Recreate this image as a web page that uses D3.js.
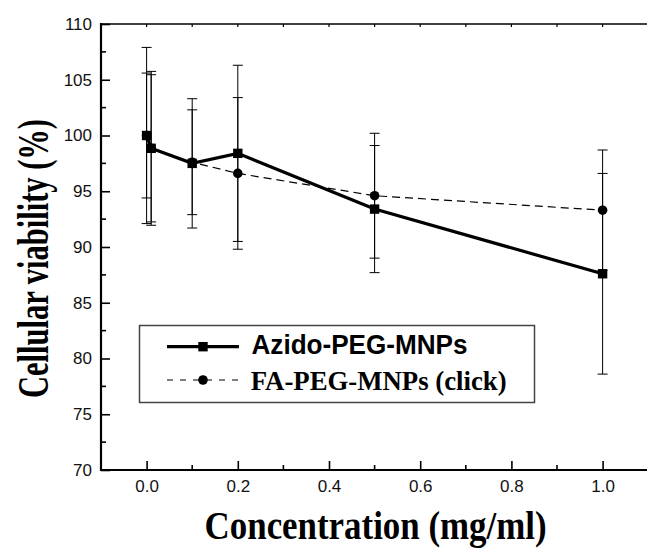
<!DOCTYPE html>
<html>
<head>
<meta charset="utf-8">
<script src="https://cdn.jsdelivr.net/npm/d3@7"></script>
<style>
  body { margin: 0; background: #fff; }
  svg { display: block; }
</style>
</head>
<body>
<div id="chart"></div>
<script>
// concentrations (mg/ml)
const concentrations = [0, 0.01, 0.1, 0.2, 0.5, 1.0]
// cellular viability (%) and error
const azidoValues = [100, 98.85, 97.5, 98.4, 93.4, 87.6]
const azidoErrors = [7.9, 6.9, 5.8, 7.9, 5.7, 9.0]
const faValues = [100, 98.85, 97.6, 96.6, 94.6, 93.3]
const faErrors = [5.6, 6.6, 4.7, 6.8, 5.6, 5.4]
const seriesNames = ['Azido-PEG-MNPs', 'FA-PEG-MNPs (click)']
const xTickValues = [0, 0.2, 0.4, 0.6, 0.8, 1.0]
const yTickValues = [70, 75, 80, 85, 90, 95, 100, 105, 110]

const width = 647, height = 548
const margin = {top: 24, left: 101, bottom: 78} // bottom measured from page foot

const svg = d3.select('#chart').append('svg')
    .attr('width', width)
    .attr('height', height)

// x goes past the right edge of the page, as in the picture
const x = d3.scaleLinear().domain([-0.1, 1.1]).range([margin.left, 648.2])
const y = d3.scaleLinear().domain([70, 110]).range([height - margin.bottom, margin.top])

const sansFont = '"Liberation Sans", Arial, sans-serif'
const serifFont = '"Liberation Serif", "Times New Roman", serif'

// ---- axes ----
const xMinor = d3.range(1, 11, 2).map(d => d / 10)
const yMinor = d3.range(72.5, 110, 5)

// bottom axis: major ticks inward (up)
const xAxis = svg.append('g').attr('transform', 'translate(0,' + y(70) + ')')
xAxis.call(d3.axisBottom(x).tickValues(xTickValues).tickSize(-9).tickFormat(d3.format('.1f')))
xAxis.selectAll('.tick text')
    .attr('y', 22)
    .attr('dy', 0)
    .attr('font-size', 17)
    .attr('font-family', sansFont)
    .attr('fill', '#111')
xAxis.select('.domain').remove()
xAxis.selectAll('.tick line').attr('stroke', '#000').attr('stroke-width', 1.6)
xAxis.selectAll('.minor').data(xMinor).enter().append('line')
    .attr('x1', d => x(d)).attr('x2', d => x(d))
    .attr('y1', 0).attr('y2', -5)
    .attr('stroke', '#000').attr('stroke-width', 1.6)
xAxis.append('line')
    .attr('x1', x(-0.1) - 1).attr('x2', width)
    .attr('stroke', '#000').attr('stroke-width', 2.2)

// left axis
const yAxis = svg.append('g').attr('transform', 'translate(' + x(-0.1) + ',0)')
yAxis.call(d3.axisLeft(y).tickValues(yTickValues).tickSize(-9).tickPadding(9))
yAxis.selectAll('.tick text')
    .attr('font-size', 17)
    .attr('font-family', sansFont)
    .attr('fill', '#111')
yAxis.select('.domain').remove()
yAxis.selectAll('.tick line').attr('stroke', '#000').attr('stroke-width', 1.6)
yAxis.selectAll('.minor').data(yMinor).enter().append('line')
    .attr('x1', 0).attr('x2', 5)
    .attr('y1', d => y(d)).attr('y2', d => y(d))
    .attr('stroke', '#000').attr('stroke-width', 1.6)
yAxis.append('line')
    .attr('y1', y(110) - 1).attr('y2', y(70) + 1)
    .attr('stroke', '#000').attr('stroke-width', 2.2)

// top frame with small ticks
const topAxis = svg.append('g').attr('transform', 'translate(0,' + y(110) + ')')
topAxis.append('line')
    .attr('x1', x(-0.1)).attr('x2', width)
    .attr('stroke', '#000').attr('stroke-width', 1.6)
topAxis.selectAll('.tt').data(d3.range(0, 11).map(d => d / 10)).enter().append('line')
    .attr('x1', d => x(d)).attr('x2', d => x(d))
    .attr('y1', 0).attr('y2', 3)
    .attr('stroke', '#000').attr('stroke-width', 1.2)

// ---- axis titles ----
svg.append('text')
    .attr('x', x(0.5) + 1)
    .attr('y', 539)
    .attr('text-anchor', 'middle')
    .attr('font-family', serifFont)
    .attr('font-weight', 'bold')
    .attr('font-size', 39)
    .attr('textLength', 342)
    .attr('lengthAdjust', 'spacingAndGlyphs')
    .text('Concentration (mg/ml)')

svg.append('text')
    .attr('transform', 'translate(48,' + 258.5 + ') rotate(-90)')
    .attr('text-anchor', 'middle')
    .attr('font-family', serifFont)
    .attr('font-weight', 'bold')
    .attr('font-size', 44)
    .attr('textLength', 279)
    .attr('lengthAdjust', 'spacingAndGlyphs')
    .text('Cellular viability (%)')

// ---- data ----
const azido = concentrations.map((c, i) => ({x: c, v: azidoValues[i], e: azidoErrors[i]}))
const fa = concentrations.map((c, i) => ({x: c, v: faValues[i], e: faErrors[i]}))

function errorBars(data){
    const g = svg.append('g')
    g.selectAll('line.bar').data(data).enter().append('line')
        .attr('x1', d => x(d.x)).attr('x2', d => x(d.x))
        .attr('y1', d => y(d.v + d.e)).attr('y2', d => y(d.v - d.e))
        .attr('stroke', '#000').attr('stroke-width', 1)
    const caps = data.flatMap(d => [{x: d.x, v: d.v + d.e}, {x: d.x, v: d.v - d.e}])
    g.selectAll('line.cap').data(caps).enter().append('line')
        .attr('x1', d => x(d.x) - 5).attr('x2', d => x(d.x) + 5)
        .attr('y1', d => y(d.v)).attr('y2', d => y(d.v))
        .attr('stroke', '#000').attr('stroke-width', 1)
}
errorBars(fa)
errorBars(azido)

const line = d3.line().x(d => x(d.x)).y(d => y(d.v))

svg.append('path').datum(fa)
    .attr('d', line)
    .attr('fill', 'none')
    .attr('stroke', '#000')
    .attr('stroke-width', 1.2)
    .attr('stroke-dasharray', '8,5')

svg.append('path').datum(azido)
    .attr('d', line)
    .attr('fill', 'none')
    .attr('stroke', '#000')
    .attr('stroke-width', 3.2)

svg.selectAll('circle.fa').data(fa).enter().append('circle')
    .attr('cx', d => x(d.x)).attr('cy', d => y(d.v))
    .attr('r', 4.8)
    .attr('fill', '#000')

svg.selectAll('rect.az').data(azido).enter().append('rect')
    .attr('x', d => x(d.x) - 4.7).attr('y', d => y(d.v) - 4.7)
    .attr('width', 9.4).attr('height', 9.4)
    .attr('fill', '#000')

// ---- legend ----
const legend = svg.append('g')
legend.append('rect')
    .attr('x', 139.5).attr('y', 325.5)
    .attr('width', 395).attr('height', 77)
    .attr('fill', '#fff')
    .attr('stroke', '#444')
    .attr('stroke-width', 1.5)

legend.append('line')
    .attr('x1', 167).attr('x2', 239).attr('y1', 346.7).attr('y2', 346.7)
    .attr('stroke', '#000').attr('stroke-width', 3.2)
legend.append('rect')
    .attr('x', 203 - 4.7).attr('y', 346.7 - 4.7)
    .attr('width', 9.4).attr('height', 9.4)
    .attr('fill', '#000')
legend.append('text')
    .attr('x', 251.5).attr('y', 354.3)
    .attr('font-family', sansFont)
    .attr('font-weight', 'bold')
    .attr('font-size', 27)
    .attr('textLength', 216)
    .attr('lengthAdjust', 'spacingAndGlyphs')
    .text(seriesNames[0])

legend.append('line')
    .attr('x1', 167).attr('x2', 239).attr('y1', 380).attr('y2', 380)
    .attr('stroke', '#000').attr('stroke-width', 1.2)
    .attr('stroke-dasharray', '6,7')
legend.append('circle')
    .attr('cx', 203).attr('cy', 380).attr('r', 4.8)
    .attr('fill', '#000')
legend.append('text')
    .attr('x', 250.7).attr('y', 390)
    .attr('font-family', serifFont)
    .attr('font-weight', 'bold')
    .attr('font-size', 28)
    .attr('textLength', 256)
    .attr('lengthAdjust', 'spacingAndGlyphs')
    .text(seriesNames[1])
</script>
</body>
</html>
